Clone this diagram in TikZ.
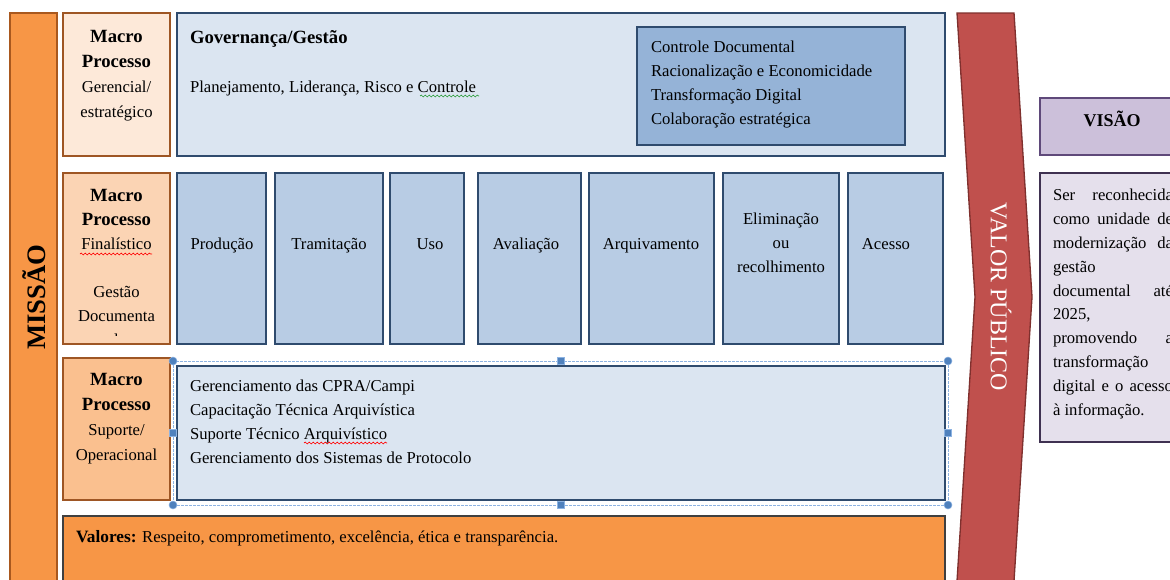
\documentclass[tikz,border=0pt]{standalone}
\usepackage{fontspec}
\setmainfont{Liberation Serif}
\usetikzlibrary{decorations.pathmorphing}
\definecolor{orangeM}{HTML}{F79646}
\definecolor{orangeB}{HTML}{A9581E}
\definecolor{labB}{HTML}{9E5624}
\definecolor{peachA}{HTML}{FDE9D9}
\definecolor{peachB}{HTML}{FBD4B4}
\definecolor{peachC}{HTML}{FAC08F}
\definecolor{blueL}{HTML}{DBE5F1}
\definecolor{blueM}{HTML}{B8CCE4}
\definecolor{blueD}{HTML}{95B3D7}
\definecolor{navyB}{HTML}{2F4B6E}
\definecolor{redA}{HTML}{C0504D}
\definecolor{redB}{HTML}{7F302E}
\definecolor{purpL}{HTML}{CCC0DA}
\definecolor{purpB}{HTML}{5F497A}
\definecolor{purpXL}{HTML}{E5E0EC}
\definecolor{purpD}{HTML}{3F3151}
\definecolor{selB}{HTML}{8DB3E2}
\definecolor{selH}{HTML}{4F81BD}
\definecolor{squigG}{HTML}{2E9E3E}
\newcommand\rbox[6]{\node[#1, minimum width={(#4-#2)*0.75pt}, minimum height={(#5-#3)*0.75pt}] (#6) at ({(#2+#4)/2},{(#3+#5)/2}) {};}
\newcommand\bhead[1]{{\fontsize{14}{18.75}\selectfont\bfseries #1}}
\tikzset{
  box/.style={draw, rectangle, inner sep=0pt, outer sep=0pt},
  labbox/.style={box, draw=labB, line width=1.5pt},
  bluebox/.style={box, draw=navyB, line width=1.8pt},
  txt/.style={inner sep=0pt, outer sep=0pt, font=\fontsize{12.5}{18}\selectfont},
  txtw/.style={inner sep=0pt, outer sep=0pt, font=\fontsize{12.5}{18.75}\selectfont},
  squig/.style={decorate, decoration={snake, amplitude=0.7pt, segment length=3pt}, line width=0.5pt},
  handleC/.style={circle, fill=selH, draw=selB, line width=0.4pt, inner sep=0pt, minimum size=6pt},
  handleS/.style={rectangle, fill=selH, draw=selB, line width=0.4pt, inner sep=0pt, minimum size=5.5pt},
}
\begin{document}
\begin{tikzpicture}[x=0.75pt,y=-0.75pt]
\useasboundingbox (0,0) rectangle (1170,579);
\clip (0,0) rectangle (1170,579);
\fill[white] (0,0) rectangle (1170,579);

% Missao bar
\rbox{box, fill=orangeM, draw=orangeB, line width=2pt}{10}{13}{57}{600}{missao}
\node[txt, rotate=90, font=\fontsize{20}{22}\selectfont\bfseries] (missaoT) at (34,297) {MISSÃO};

% Row 1
\rbox{labbox, fill=peachA}{63}{13}{170}{156}{lab1}
\node[txtw, anchor=north, align=center] (lab1T) at (116.5,24.5) {\strut\bhead{Macro}\\\bhead{Processo}\\Gerencial/\\estratégico};
\rbox{bluebox, fill=blueL}{177}{13}{945}{156}{gov}
\node[txt, anchor=base west, font=\fontsize{14}{18}\selectfont\bfseries] (govT) at (190,43) {Governança/Gestão};
\node[txt, anchor=base west] (govP) at (190,92) {Planejamento, Liderança, Risco e Controle};
\draw[squig, squigG] (420,96) -- (479,96);
\rbox{bluebox, fill=blueD}{637}{27}{905}{145}{inner}
\node[txt, anchor=north west, align=left] (innerT) at (651,35.2) {\strut Controle Documental\\Racionalização e Economicidade\\Transformação Digital\\Colaboração estratégica};

% Row 2
\rbox{labbox, fill=peachB}{63}{173}{170}{344}{lab2}
\begin{scope}
\clip (64,174) rectangle (169,335.5);
\node[txt, anchor=north, align=center] (lab2T) at (116.5,184.2) {\strut\bhead{Macro}\\\bhead{Processo}\\Finalístico\\ \\Gestão\\Documenta\\l};
\end{scope}
\draw[squig, red] (80,254) -- (152,254);
\rbox{bluebox, fill=blueM}{177}{173}{266}{344}{prod}
\rbox{bluebox, fill=blueM}{275}{173}{383}{344}{tram}
\rbox{bluebox, fill=blueM}{390}{173}{464}{344}{uso}
\rbox{bluebox, fill=blueM}{478}{173}{581}{344}{aval}
\rbox{bluebox, fill=blueM}{589}{173}{714}{344}{arq}
\rbox{bluebox, fill=blueM}{723}{173}{839}{344}{elim}
\rbox{bluebox, fill=blueM}{848}{173}{943}{344}{aces}
\node[txt, anchor=base] (prodT) at (222,249) {Produção};
\node[txt, anchor=base] (tramT) at (329,249) {Tramitação};
\node[txt, anchor=base] (usoT) at (430,249) {Uso};
\node[txt, anchor=base] (avalT) at (526,249) {Avaliação};
\node[txt, anchor=base] (arqT) at (651,249) {Arquivamento};
\node[txt, anchor=north, align=center] (elimT) at (781,207.2) {\strut Eliminação\\ou\\recolhimento};
\node[txt, anchor=base] (acesT) at (886,249) {Acesso};

% Row 3
\rbox{labbox, fill=peachC}{63}{358}{170}{500}{lab3}
\node[txtw, anchor=north, align=center] (lab3T) at (116.5,367.5) {\strut\bhead{Macro}\\\bhead{Processo}\\Suporte/\\Operacional};
\rbox{bluebox, fill=blueL}{177}{366}{945}{500}{sup}
\node[txt, anchor=north west, align=left] (supT) at (190,374.2) {\strut Gerenciamento das CPRA/Campi\\Capacitação Técnica Arquivística\\Suporte Técnico Arquivístico\\Gerenciamento dos Sistemas de Protocolo};
\draw[squig, red] (304,443) -- (387,443);
% selection frame
\draw[selB, line width=0.5pt, dash pattern=on 2pt off 1pt] (173,361) rectangle (948,505);
\node[handleC] (h1) at (173,361) {};
\node[handleC] (h2) at (948,361) {};
\node[handleC] (h3) at (173,505) {};
\node[handleC] (h4) at (948,505) {};
\node[handleS] (h5) at (561,361) {};
\node[handleS] (h6) at (561,505) {};
\node[handleS] (h7) at (173,433) {};
\node[handleS] (h8) at (948,433) {};

% Valores
\rbox{box, fill=orangeM, draw=black!75, line width=1.5pt}{63}{516}{945}{600}{val}
\node[txt, anchor=base west] (valT) at (76,542) {{\fontsize{13}{18}\selectfont\bfseries Valores:} Respeito, comprometimento, excelência, ética e transparência.};

% Valor publico chevron
\draw[fill=redA, draw=redB, line width=1pt] (957,13) -- (1014,13) -- (1032,297) -- (1014,581) -- (957,581) -- (975,297) -- cycle;
\node[txt, rotate=-90, text=white, font=\fontsize{18}{20}\selectfont] (vpT) at (1001,297) {VALOR PÚBLICO};

% Visao
\rbox{box, fill=purpL, draw=purpB, line width=2pt}{1040}{98}{1200}{155}{visao}
\node[txt, anchor=base, font=\fontsize{13.5}{18}\selectfont\bfseries] (visaoT) at (1112,126) {VISÃO};
\rbox{box, fill=purpXL, draw=purpD, line width=2.2pt}{1040}{173}{1200}{442}{vistxt}
\node[txt, anchor=north west, align=left, font=\fontsize{12.5}{17.85}\selectfont] (vistxtT) at (1053,184.2) {\strut\makebox[90pt][s]{Ser reconhecida}\\
\makebox[90pt][s]{como unidade de}\\
\makebox[90pt][s]{modernização da}\\
gestão\\
\makebox[90pt][s]{documental até}\\
2025,\\
\makebox[90pt][s]{promovendo a}\\
transformação\\
\makebox[90pt][s]{digital e o acesso}\\
à informação.};
\end{tikzpicture}
\end{document}
